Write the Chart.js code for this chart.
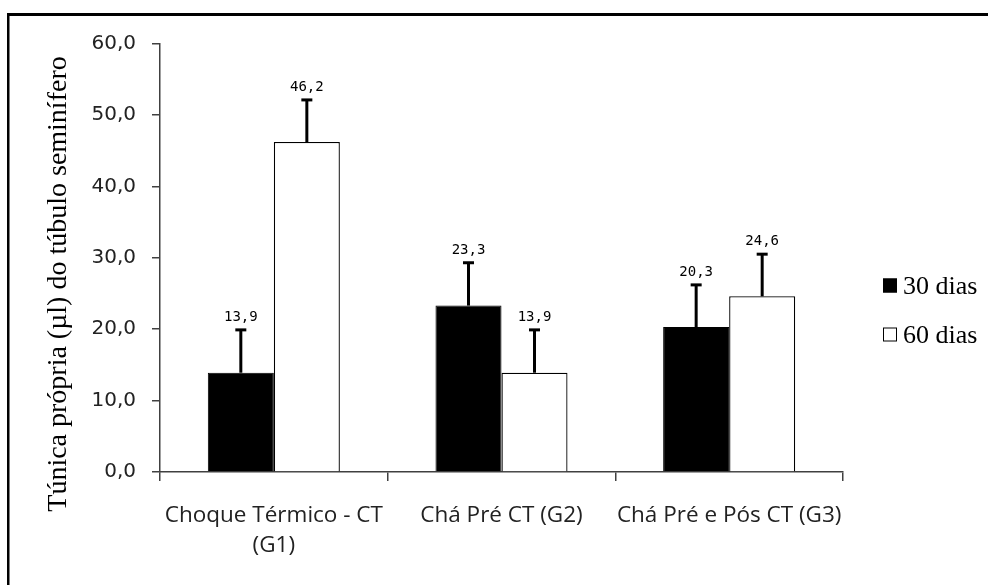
<!DOCTYPE html>
<html>
<head>
<meta charset="utf-8">
<script src="https://cdn.jsdelivr.net/npm/chart.js@4.4.1/dist/chart.umd.min.js"></script>
<style>
  html, body { margin: 0; padding: 0; background: #fff; }
  #wrap { width: 988px; height: 585px; }
</style>
</head>
<body>
<div id="wrap"><canvas id="chart" width="988" height="585"></canvas></div>
<script>
const categories = [['Choque Térmico - CT', '(G1)'], 'Chá Pré CT (G2)', 'Chá Pré e Pós CT (G3)'];
const seriesNames = ['30 dias', '60 dias'];
const values30 = [13.9, 23.3, 20.3];
const values60 = [46.2, 13.9, 24.6];
const errors30 = [6.0, 6.0, 5.9];
const errors60 = [5.9, 6.0, 5.9];
const yTickLabels = ['0,0', '10,0', '20,0', '30,0', '40,0', '50,0', '60,0'];
const yTitle = 'Túnica própria (µl) do túbulo seminífero';

const errors = [errors30, errors60];

function fmt(v) {
    return v.toFixed(1).replace('.', ',');
}

// error bars, value labels, legend, y title and the frame
const extras = {
    id: 'extras',
    afterDatasetsDraw(chart) {
        const ctx = chart.ctx;
        const y = chart.scales.y;

        chart.data.datasets.forEach((ds, di) => {
            const meta = chart.getDatasetMeta(di);
            meta.data.forEach((bar, i) => {
                const v = ds.data[i];
                const top = y.getPixelForValue(v);
                const capY = y.getPixelForValue(v + errors[di][i]);
                ctx.save();
                ctx.strokeStyle = '#000';
                ctx.lineWidth = 3;
                ctx.beginPath();
                ctx.moveTo(bar.x, top);
                ctx.lineTo(bar.x, capY);
                ctx.stroke();
                ctx.beginPath();
                ctx.moveTo(bar.x - 5.5, capY);
                ctx.lineTo(bar.x + 5.5, capY);
                ctx.stroke();
                ctx.fillStyle = '#000';
                ctx.font = '14px "DejaVu Sans Mono"';
                ctx.textAlign = 'center';
                ctx.textBaseline = 'alphabetic';
                ctx.fillText(fmt(v), bar.x, capY - 9);
                ctx.restore();
            });
        });

        // legend
        ctx.save();
        ctx.font = '26px "Liberation Serif"';
        ctx.textBaseline = 'alphabetic';
        ctx.textAlign = 'left';
        chart.data.datasets.forEach((ds, di) => {
            const cy = 285.5 + di * 49;
            ctx.fillStyle = ds.backgroundColor;
            ctx.fillRect(883, cy - 7, 14, 14);
            ctx.strokeStyle = '#000';
            ctx.lineWidth = 1;
            ctx.strokeRect(883.5, cy - 6.5, 13, 13);
            ctx.fillStyle = '#000';
            ctx.fillText(ds.label, 903, cy + 8);
        });
        ctx.restore();

        // y title
        ctx.save();
        ctx.translate(66, 284);
        ctx.rotate(-Math.PI / 2);
        ctx.font = '28px "Liberation Serif"';
        ctx.textAlign = 'center';
        ctx.textBaseline = 'alphabetic';
        ctx.fillStyle = '#000';
        ctx.fillText(yTitle, 0, 0);
        ctx.restore();

        // frame (top and left edges only are in view)
        ctx.save();
        ctx.fillStyle = '#000';
        ctx.fillRect(7, 13, 981, 3);
        ctx.fillRect(7, 13, 2.5, 572);
        ctx.restore();
    }
};

new Chart(document.getElementById('chart'), {
    type: 'bar',
    data: {
        labels: categories,
        datasets: [
            {
                label: seriesNames[0],
                data: values30,
                backgroundColor: '#000000',
                borderColor: '#000000',
                borderWidth: 1
            },
            {
                label: seriesNames[1],
                data: values60,
                backgroundColor: '#ffffff',
                borderColor: '#000000',
                borderWidth: 1.3
            }
        ]
    },
    options: {
        responsive: false,
        animation: false,
        layout: { padding: { top: 43.5, right: 145, bottom: 0, left: 0 } },
        categoryPercentage: 0.58,
        barPercentage: 1.0,
        plugins: {
            legend: { display: false },
            tooltip: { enabled: false }
        },
        scales: {
            x: {
                grid: { offset: true, drawOnChartArea: false, drawTicks: true, tickLength: 9, color: '#404040', lineWidth: 1.5 },
                border: { display: true, color: '#404040', width: 1.5 },
                ticks: {
                    color: '#222',
                    font: { family: '"Open Sans"', size: 22.5, lineHeight: 1.31 },
                    padding: 20,
                    maxRotation: 0,
                    autoSkip: false
                },
                afterFit: s => { s.height = 113; }
            },
            y: {
                min: 0,
                max: 60,
                ticks: {
                    stepSize: 10,
                    color: '#222',
                    font: { family: '"DejaVu Sans"', size: 20 },
                    padding: 16,
                    callback: (v, i) => yTickLabels[i]
                },
                grid: { drawOnChartArea: false, drawTicks: true, tickLength: 8, color: '#404040', lineWidth: 1.5 },
                border: { display: true, color: '#404040', width: 1.5 },
                afterFit: s => { s.width = 160; }
            }
        }
    },
    plugins: [extras]
});
</script>
</body>
</html>
